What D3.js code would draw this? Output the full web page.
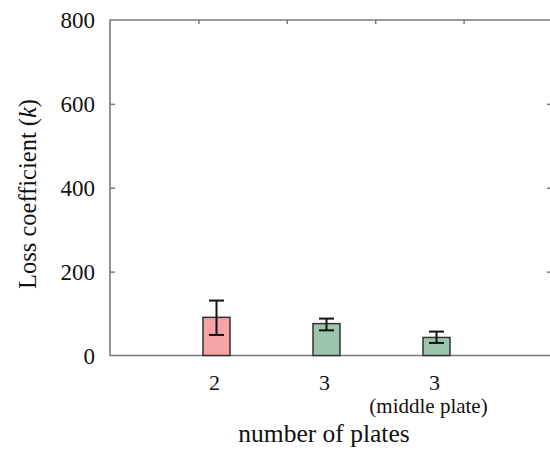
<!DOCTYPE html>
<html>
<head>
<meta charset="utf-8">
<script src="https://cdn.jsdelivr.net/npm/d3@7"></script>
<style>
  html, body { margin: 0; padding: 0; background: #fff; }
  svg { display: block; }
</style>
</head>
<body>
<svg id="chart" width="550" height="450"></svg>
<script>
// Loss coefficient per plate configuration, with error bar bounds
const categories = ["2", "3", "3m"];
const tickMain = ["2", "3", "3"];
const tickSub = ["", "", "(middle plate)"];
const lossMean = [91, 76, 43];
const errLow = [49, 60, 30];
const errHigh = [131, 88, 57];
const barColors = ["#f6a3a8", "#9cc5ad"];
const barColorIndex = [0, 1, 1];
const yTicks = [0, 200, 400, 600, 800];

const serif = "'Liberation Serif', 'DejaVu Serif', serif";
const svg = d3.select("#chart").attr("font-family", serif);
const plotLeft = 110, plotRight = 552, plotTop = 20, plotBottom = 355.5;

const x = d3.scalePoint().domain(categories).range([106.5, 546.5]).padding(1);
const frameX = d3.scaleLinear().domain([0, 5]).range([plotLeft, plotRight]);
const y = d3.scaleLinear().domain([0, 800]).range([plotBottom, plotTop]);

const axisColor = "#7a7a7a";

// frame ticks along the top edge
svg.append("g")
  .attr("transform", `translate(0,${plotTop})`)
  .call(d3.axisBottom(frameX).tickValues([1, 2, 3, 4]).tickSize(4).tickFormat(""))
  .call(g => g.select(".domain").remove())
  .call(g => g.selectAll("line").attr("stroke", axisColor).attr("stroke-width", 1.5));

// right edge ticks
svg.append("g")
  .attr("transform", `translate(${plotRight},0)`)
  .call(d3.axisLeft(y).tickValues([200, 400, 600]).tickSize(5).tickFormat(""))
  .call(g => g.select(".domain").remove())
  .call(g => g.selectAll("line").attr("stroke", axisColor).attr("stroke-width", 1.5));

// left axis: inward ticks, labels outside
const yAxis = svg.append("g")
  .attr("transform", `translate(${plotLeft},0)`)
  .call(d3.axisRight(y).tickValues([200, 400, 600]).tickSize(5).tickFormat(""));
yAxis.select(".domain").remove();
yAxis.selectAll("line").attr("stroke", axisColor).attr("stroke-width", 1.5);

svg.append("g").selectAll("text")
  .data(yTicks)
  .join("text")
  .attr("x", 95)
  .attr("y", d => y(d))
  .attr("dy", "0.35em")
  .attr("text-anchor", "end")
  .attr("font-family", serif)
  .attr("font-size", 23)
  .attr("fill", "#111")
  .text(d => d);

// frame lines
svg.append("path")
  .attr("d", `M${plotRight},${plotTop}H${plotLeft}V${plotBottom}H${plotRight}`)
  .attr("fill", "none")
  .attr("stroke", axisColor)
  .attr("stroke-width", 1.6);

// bars
const barW = 27;
svg.append("g").selectAll("rect")
  .data(categories)
  .join("rect")
  .attr("x", (d) => x(d) - barW / 2)
  .attr("y", (d, i) => y(lossMean[i]))
  .attr("width", barW)
  .attr("height", (d, i) => y(0) - y(lossMean[i]))
  .attr("fill", (d, i) => barColors[barColorIndex[i]])
  .attr("stroke", "#333")
  .attr("stroke-width", 1.5);

// error bars
const capW = 15;
const eb = svg.append("g").attr("stroke", "#111").attr("stroke-width", 2);
categories.forEach((c, i) => {
  const cx = x(c);
  eb.append("line").attr("x1", cx).attr("x2", cx).attr("y1", y(errLow[i])).attr("y2", y(errHigh[i]));
  eb.append("line").attr("x1", cx - capW / 2).attr("x2", cx + capW / 2).attr("y1", y(errLow[i])).attr("y2", y(errLow[i]));
  eb.append("line").attr("x1", cx - capW / 2).attr("x2", cx + capW / 2).attr("y1", y(errHigh[i])).attr("y2", y(errHigh[i]));
});

// category labels
svg.append("g").selectAll("text")
  .data(categories)
  .join("text")
  .attr("x", d => x(d) - 2)
  .attr("y", 382)
  .attr("dy", "0.35em")
  .attr("text-anchor", "middle")
  .attr("font-family", serif)
  .attr("font-size", 22)
  .attr("fill", "#111")
  .text((d, i) => tickMain[i]);

svg.append("g").selectAll("text")
  .data(categories)
  .join("text")
  .attr("x", d => x(d) - 8)
  .attr("y", 406)
  .attr("dy", "0.35em")
  .attr("text-anchor", "middle")
  .attr("font-family", serif)
  .attr("font-size", 21)
  .attr("fill", "#111")
  .text((d, i) => tickSub[i]);

// axis titles
svg.append("text")
  .attr("x", 324)
  .attr("y", 433)
  .attr("dy", "0.35em")
  .attr("text-anchor", "middle")
  .attr("font-family", serif)
  .attr("font-size", 25.5)
  .attr("fill", "#111")
  .text("number of plates");

const yTitle = svg.append("text")
  .attr("transform", `translate(27,194) rotate(-90)`)
  .attr("dy", "0.35em")
  .attr("text-anchor", "middle")
  .attr("font-family", serif)
  .attr("font-size", 24.5)
  .attr("fill", "#111");
yTitle.append("tspan").text("Loss coefficient (");
yTitle.append("tspan").attr("font-style", "italic").text("k");
yTitle.append("tspan").text(")");
</script>
</body>
</html>
